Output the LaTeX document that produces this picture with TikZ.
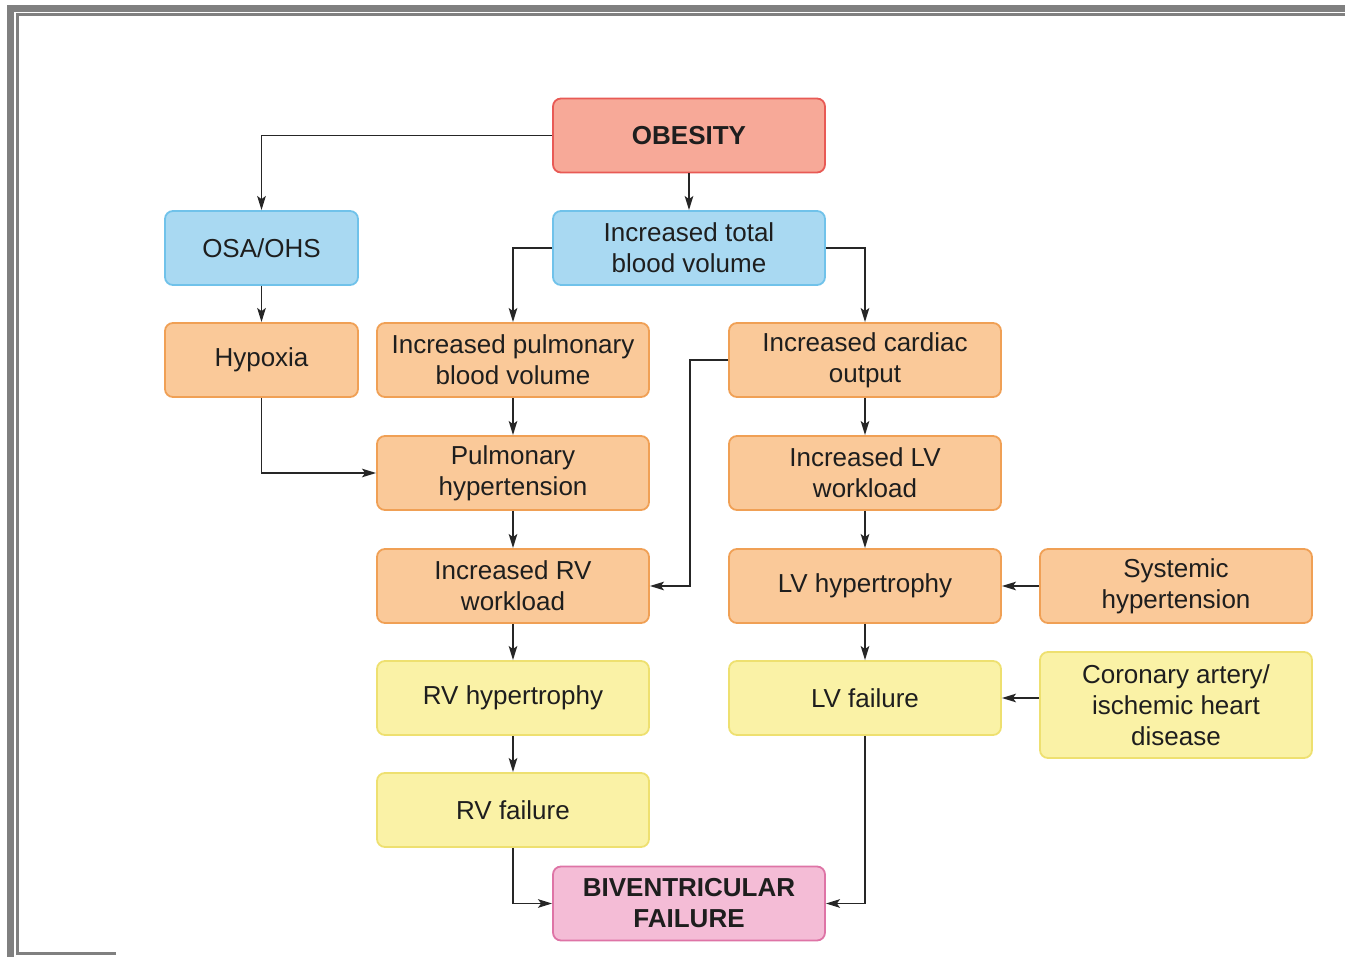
\documentclass[tikz,border=0pt]{standalone}
\usepackage{fontspec}
\setmainfont{Liberation Sans}
\usetikzlibrary{arrows.meta}
\definecolor{salmonF}{HTML}{F7A998}
\definecolor{salmonD}{HTML}{E85A55}
\definecolor{blueF}{HTML}{A9D9F2}
\definecolor{blueD}{HTML}{70C2EA}
\definecolor{orangeF}{HTML}{FAC999}
\definecolor{orangeD}{HTML}{F0A055}
\definecolor{yellowF}{HTML}{FAF2A6}
\definecolor{yellowD}{HTML}{EEE070}
\definecolor{pinkF}{HTML}{F4BCD6}
\definecolor{pinkD}{HTML}{DE74A6}
\definecolor{txt}{HTML}{1E1E1E}
\definecolor{frame}{HTML}{808080}
\tikzset{
  x=1pt, y=-1pt,
  box/.style={draw, rounded corners=8pt, line width=1.8pt, minimum width=272pt, minimum height=74pt,
    align=center, inner sep=2pt, text=txt, font=\fontsize{26}{31}\selectfont},
  salbox/.style={box, fill=salmonF, draw=salmonD, font=\fontsize{26}{31}\selectfont\bfseries},
  bluebox/.style={box, fill=blueF, draw=blueD},
  orbox/.style={box, fill=orangeF, draw=orangeD},
  yelbox/.style={box, fill=yellowF, draw=yellowD},
  pinkbox/.style={box, fill=pinkF, draw=pinkD, font=\fontsize{26}{31}\selectfont\bfseries},
  arr/.style={-{Stealth[length=14pt,width=8.5pt,inset=3pt]}, line width=1.9pt, draw=black!85},
}
\begin{document}
\begin{tikzpicture}
\useasboundingbox (0,0) rectangle (1345,957);
% frame
\draw[frame, line width=7pt] (10,957) -- (10,8.5) -- (1345,8.5);
\draw[frame, line width=3pt] (116,953.5) -- (17,953.5) -- (17,15) -- (1345,15);
% nodes
\node[salbox] (ob) at (689,135.5) {OBESITY};
\node[bluebox] (itbv) at (689,248) {Increased total\\blood volume};
\node[bluebox, minimum width=193pt] (osa) at (261.5,248) {OSA/OHS};
\node[orbox, minimum width=193pt] (hyp) at (261.5,360) {Hypoxia};
\node[orbox] (ipbv) at (513,360) {Increased pulmonary\\blood volume};
\node[orbox] (ico) at (865,360) {Increased cardiac\\output};
\node[orbox] (ph) at (513,473) {Pulmonary\\hypertension};
\node[orbox] (ilvw) at (865,473) {Increased LV\\workload};
\node[orbox] (irvw) at (513,586) {Increased RV\\workload};
\node[orbox] (lvh) at (865,586) {LV hypertrophy};
\node[orbox] (sht) at (1176,586) {Systemic\\hypertension};
\node[yelbox] (rvh) at (513,698) {RV hypertrophy};
\node[yelbox] (lvf) at (865,698) {LV failure};
\node[yelbox, minimum height=106pt] (cad) at (1176,705) {Coronary artery/\\ischemic heart\\disease};
\node[yelbox] (rvf) at (513,810) {RV failure};
\node[pinkbox] (bvf) at (689,903.5) {BIVENTRICULAR\\FAILURE};
% connectors
\draw[arr] (ob.west) -| (osa.north);
\draw[arr] (ob.south) -- (itbv.north);
\draw[arr] (itbv.west) -| (ipbv.north);
\draw[arr] (itbv.east) -| (ico.north);
\draw[arr] (osa.south) -- (hyp.north);
\draw[arr] (hyp.south) |- (ph.west);
\draw[arr] (ipbv.south) -- (ph.north);
\draw[arr] (ph.south) -- (irvw.north);
\draw[arr] (irvw.south) -- (rvh.north);
\draw[arr] (rvh.south) -- (rvf.north);
\coordinate (j1) at (690,360);
\draw[arr] (ico.west) -- (j1) |- (irvw.east);
\draw[arr] (ico.south) -- (ilvw.north);
\draw[arr] (ilvw.south) -- (lvh.north);
\draw[arr] (lvh.south) -- (lvf.north);
\draw[arr] (sht.west) -- (lvh.east);
\draw[arr] (cad.west |- lvf.east) -- (lvf.east);
\draw[arr] (rvf.south) |- (bvf.west);
\draw[arr] (lvf.south) |- (bvf.east);
\end{tikzpicture}
\end{document}
